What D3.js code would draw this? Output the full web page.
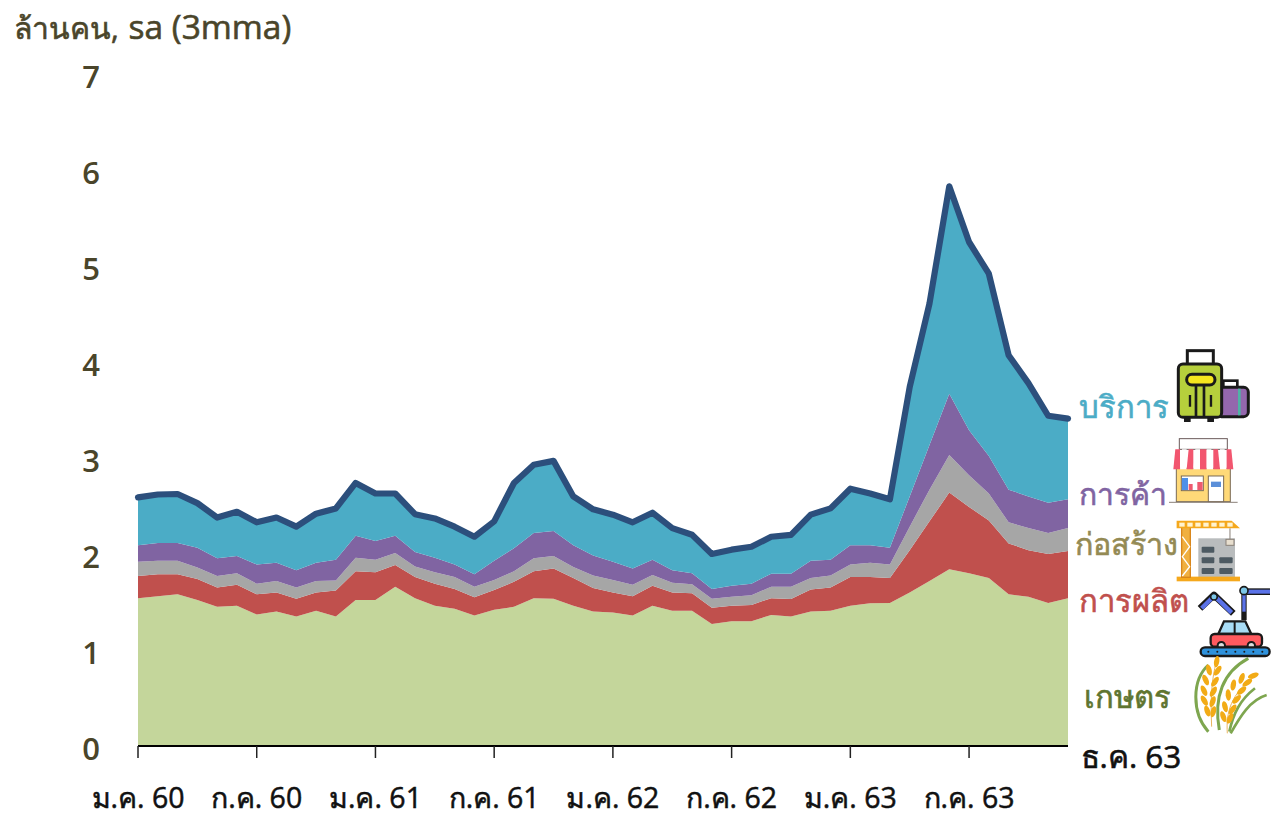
<!DOCTYPE html>
<html><head><meta charset="utf-8">
<script src="https://cdn.jsdelivr.net/npm/d3@7"></script>
<style>html,body{margin:0;background:#fff}svg{display:block}text{font-family:"Open Sans","Noto Sans",sans-serif}</style>
</head><body><svg id="c" width="1286" height="815"></svg>
<script>
const keys=["เกษตร","การผลิต","ก่อสร้าง","การค้า","บริการ"];
const agriculture=[1.54,1.56,1.58,1.52,1.45,1.46,1.37,1.40,1.35,1.41,1.35,1.52,1.52,1.66,1.54,1.46,1.43,1.36,1.42,1.45,1.54,1.535,1.46,1.40,1.39,1.36,1.46,1.41,1.41,1.27,1.30,1.30,1.365,1.35,1.40,1.41,1.46,1.486,1.49,1.60,1.72,1.84,1.80,1.75,1.58,1.555,1.49,1.54];
const manufacturing=[.23,.23,.21,.22,.20,.22,.21,.20,.185,.19,.27,.30,.29,.225,.22,.23,.205,.19,.205,.26,.28,.315,.29,.245,.21,.20,.21,.19,.18,.17,.16,.17,.175,.18,.23,.24,.30,.274,.26,.44,.62,.80,.69,.60,.53,.485,.51,.49];
const construction=[.15,.14,.14,.12,.12,.12,.11,.12,.115,.12,.105,.14,.13,.125,.11,.12,.125,.11,.105,.11,.135,.13,.115,.13,.13,.12,.11,.10,.095,.095,.095,.10,.12,.13,.12,.125,.13,.15,.14,.245,.33,.39,.33,.28,.22,.23,.22,.24];
const trade=[.17,.185,.185,.205,.185,.18,.20,.19,.18,.19,.215,.23,.195,.18,.15,.15,.13,.13,.20,.24,.265,.26,.225,.21,.19,.17,.16,.13,.115,.10,.115,.12,.135,.135,.18,.165,.20,.18,.175,.315,.465,.64,.47,.39,.34,.33,.315,.30];
const services=[.50,.505,.51,.465,.425,.46,.44,.47,.455,.51,.535,.55,.495,.44,.395,.41,.395,.39,.41,.68,.71,.73,.51,.48,.49,.48,.49,.44,.40,.365,.375,.385,.385,.405,.48,.535,.59,.54,.505,1.14,1.475,2.16,1.96,1.90,1.40,1.18,.905,.84];
const seriesValues=[agriculture,manufacturing,construction,trade,services];
const yTicks=[0,1,2,3,4,5,6,7];
const xLabels=["ม.ค. 60","ก.ค. 60","ม.ค. 61","ก.ค. 61","ม.ค. 62","ก.ค. 62","ม.ค. 63","ก.ค. 63"];
const lastLabel="ธ.ค. 63";
const colors=["#c4d69b","#c0504d","#a6a6a6","#8064a2","#4bacc6"];
const svg=d3.select("#c");
const x=d3.scaleLinear().domain([0,47]).range([138,1068]);
const y=d3.scaleLinear().domain([0,7]).range([746,74]);
const rows=agriculture.map((_,i)=>Object.fromEntries(keys.map((k,j)=>[k,seriesValues[j][i]])));
const stacked=d3.stack().keys(keys)(rows);
const area=d3.area().x((d,i)=>x(i)).y0(d=>y(d[0])).y1(d=>y(d[1]));
svg.selectAll("path.a").data(stacked).join("path").attr("class","a").attr("d",area).attr("fill",(d,i)=>colors[i]);
const topLine=d3.line().x((d,i)=>x(i)).y(d=>y(d[1]));
svg.append("path").attr("d",topLine(stacked[4])).attr("fill","none").attr("stroke","#2c4f7c").attr("stroke-width",6.2).attr("stroke-linejoin","round").attr("stroke-linecap","round");
const ax=svg.append("g").attr("transform","translate(0,746)");
ax.append("line").attr("x1",138).attr("x2",1068).attr("stroke","#000").attr("stroke-width",2);
xLabels.forEach((l,i)=>{const px=x(i*6);
 ax.append("line").attr("x1",px).attr("x2",px).attr("y1",0).attr("y2",12).attr("stroke","#222").attr("stroke-width",1.5);
 svg.append("text").attr("x",px).attr("y",808).attr("text-anchor","middle").attr("font-size",28.5).attr("font-weight",400).attr("stroke","#111").attr("stroke-width",.5).attr("fill","#111").text(l);});
svg.append("text").attr("x",1131).attr("y",768).attr("text-anchor","middle").attr("font-size",31.5).attr("font-weight",400).attr("stroke","#111").attr("stroke-width",.6).attr("fill","#111").text(lastLabel);
yTicks.forEach(t=>svg.append("text").attr("x",91).attr("y",y(t)+14).attr("text-anchor","middle").attr("font-size",31).attr("font-weight",600).attr("fill","#4a452a").text(t));
const title=svg.append("text").attr("x",14).attr("y",39).attr("font-size",30).attr("font-weight",400).attr("stroke","#4a452a").attr("stroke-width",.6).attr("fill","#4a452a");
title.append("tspan").text("ล้านคน,");
title.append("tspan").attr("font-size",33.5).attr("dx",1).text(" sa (3mma)");
const labels=[["บริการ",1079,418,"#4bacc6",31],["การค้า",1079,505,"#8064a2",30],["ก่อสร้าง",1075,555,"#948a54",30.5],["การผลิต",1079,612,"#c0504d",31],["เกษตร",1084,708,"#5f7530",31]];
labels.forEach(([t,a,b,c,s])=>svg.append("text").attr("x",a).attr("y",b).attr("font-size",s).attr("font-weight",400).attr("stroke",c).attr("stroke-width",.6).attr("fill",c).text(t));

// decorative icons, sketched in zoom-crop units
function shape(g,tag,attrs){const s=g.append(tag);Object.entries(attrs).forEach(([k,v])=>s.attr(k,v));return s;}
const K="#1a1a1a";
const bag=svg.append("g").attr("transform","translate(1060,340) scale(.3333)");
shape(bag,"rect",{x:382,y:32,width:78,height:50,fill:"none",stroke:K,"stroke-width":9});
shape(bag,"rect",{x:490,y:122,width:42,height:30,fill:"none",stroke:K,"stroke-width":8});
shape(bag,"rect",{x:470,y:142,width:95,height:88,rx:14,fill:"#9467ad",stroke:K,"stroke-width":9});
shape(bag,"rect",{x:534,y:146,width:8,height:80,fill:"#4fb3a5"});
shape(bag,"rect",{x:372,y:228,width:20,height:18,fill:K});shape(bag,"rect",{x:442,y:228,width:20,height:18,fill:K});
shape(bag,"rect",{x:355,y:72,width:130,height:160,rx:14,fill:"#b6cf3c",stroke:K,"stroke-width":9});
shape(bag,"path",{d:"M408 135V230M432 135V230",stroke:K,"stroke-width":8,fill:"none"});
shape(bag,"rect",{x:380,y:103,width:85,height:32,rx:16,fill:"#f5e61e",stroke:K,"stroke-width":9});
shape(bag,"path",{d:"M390 165V200M453 165V200",stroke:K,"stroke-width":7,fill:"none"});

const shop=svg.append("g").attr("transform","translate(1060,340) scale(.3333)");
shape(shop,"rect",{x:358,y:296,width:144,height:32,fill:"#fff",stroke:"#6b5a5a","stroke-width":3});
shape(shop,"rect",{x:349,y:385,width:162,height:100,fill:"#ffd978",stroke:"#7a6a55","stroke-width":3});
d3.range(9).forEach(i=>{const w=20,xx=340+i*w;shape(shop,"path",{d:`M${xx+(i<4?6:0)} 328 L${xx} 388 H${xx+w} L${xx+w-(i>4?6:0)} 328Z`,fill:i%2?"#fff":"#f2566f"});});
shape(shop,"rect",{x:445,y:408,width:46,height:77,fill:"#fff",stroke:"#7a6a55","stroke-width":3});
shape(shop,"rect",{x:453,y:425,width:30,height:16,fill:"#5b8fd9"});
shape(shop,"rect",{x:364,y:408,width:66,height:44,fill:"#fff",stroke:"#7a6a55","stroke-width":3});
shape(shop,"rect",{x:366,y:414,width:18,height:36,fill:"#4d90e8"});
shape(shop,"rect",{x:386,y:432,width:12,height:18,fill:"#ee5a6f"});
shape(shop,"rect",{x:412,y:426,width:16,height:24,fill:"#ee5a6f"});
shape(shop,"path",{d:"M327 487H533",stroke:"#8a8078","stroke-width":3});

const crane=svg.append("g").attr("transform","translate(1060,340) scale(.3333)");
shape(crane,"rect",{x:415,y:595,width:110,height:118,fill:"#b9bcbd"});
[[425,620,38],[425,652,38],[478,652,40],[425,684,38],[478,684,40]].forEach(([a,b,w])=>shape(crane,"rect",{x:a,y:b,width:w,height:18,rx:3,fill:"#4d5a62"}));
shape(crane,"rect",{x:350,y:710,width:190,height:14,fill:"#f5a81c"});
shape(crane,"rect",{x:365,y:560,width:26,height:152,fill:"#f0b040",stroke:"#d9861a","stroke-width":4});
shape(crane,"path",{d:"M367 590L389 620L367 650L389 680L367 708",fill:"none",stroke:"#fff","stroke-width":4});
shape(crane,"path",{d:"M350 542H515L540 565H350Z",fill:"#f5a81c"});
d3.range(7).forEach(i=>shape(crane,"rect",{x:358+i*24,y:548,width:16,height:12,fill:"#fff3d0"}));
shape(crane,"path",{d:"M510 565V600",stroke:"#8a8078","stroke-width":3});
shape(crane,"rect",{x:498,y:598,width:24,height:18,fill:"#e8dfcf",stroke:"#8a8078","stroke-width":3});

const robot=svg.append("g").attr("transform","translate(1060,580) scale(.3333)");
shape(robot,"path",{d:"M420 85L462 45L520 100",fill:"none",stroke:K,"stroke-width":20,"stroke-linejoin":"round"});
shape(robot,"path",{d:"M425 85L460 50",stroke:"#5a72e8","stroke-width":13,fill:"none"});
shape(robot,"path",{d:"M468 52L515 98",stroke:"#5a72e8","stroke-width":13,fill:"none"});
shape(robot,"circle",{cx:462,cy:50,r:10,fill:"#7cc7e8",stroke:K,"stroke-width":5});
shape(robot,"path",{d:"M552 35H630",stroke:K,"stroke-width":20});shape(robot,"path",{d:"M560 35H630",stroke:"#5a72e8","stroke-width":12});
shape(robot,"path",{d:"M552 35V120",stroke:K,"stroke-width":16});shape(robot,"path",{d:"M552 45V95",stroke:"#5a72e8","stroke-width":10});
shape(robot,"circle",{cx:552,cy:32,r:12,fill:"#7cc7e8",stroke:K,"stroke-width":5});
shape(robot,"path",{d:"M475 162L492 124H556L574 162Z",fill:"#a8dcf5",stroke:K,"stroke-width":7});
shape(robot,"path",{d:"M524 124V162",stroke:K,"stroke-width":6});
shape(robot,"rect",{x:452,y:162,width:154,height:38,rx:12,fill:"#ff5a5f",stroke:K,"stroke-width":7});
shape(robot,"circle",{cx:484,cy:197,r:11,fill:"#ddd",stroke:K,"stroke-width":6});
shape(robot,"circle",{cx:574,cy:197,r:11,fill:"#ddd",stroke:K,"stroke-width":6});
shape(robot,"rect",{x:422,y:202,width:207,height:26,rx:13,fill:"#2f92dc",stroke:K,"stroke-width":7});
d3.range(7).forEach(i=>shape(robot,"circle",{cx:445+i*27,cy:215,r:3,fill:K}));

const rice=svg.append("g").attr("transform","translate(1060,580) scale(.3333)");
[["M445 455C395 400 395 300 445 255",9],["M478 450C460 350 490 275 565 235",9],["M508 455C520 400 540 360 585 325",8],["M512 460C540 410 570 360 620 345",8]].forEach(([d,w])=>shape(rice,"path",{d,fill:"none",stroke:"#7ea64f","stroke-width":w}));
shape(rice,"path",{d:"M455 440C452 370 452 310 470 240",fill:"none",stroke:"#e9b45c","stroke-width":3});
shape(rice,"path",{d:"M502 460C498 400 510 340 590 285",fill:"none",stroke:"#e9b45c","stroke-width":3});
const grains=[[470,245,10],[447,270,-15],[473,272,35],[437,300,-25],[465,305,35],[432,332,-25],[460,335,30],[433,362,-30],[458,365,20],[442,393,-20],[460,395,15],
[580,287,70],[545,295,20],[562,308,55],[520,315,10],[545,332,50],[505,345,-5],[530,358,45],[495,380,-15],[518,388,35],[490,410,-20],[510,415,25]];
grains.forEach(([a,b,r])=>shape(rice,"ellipse",{cx:a,cy:b,rx:8,ry:17,fill:"#f2ab16",transform:`rotate(${r} ${a} ${b})`}));
</script></body></html>
